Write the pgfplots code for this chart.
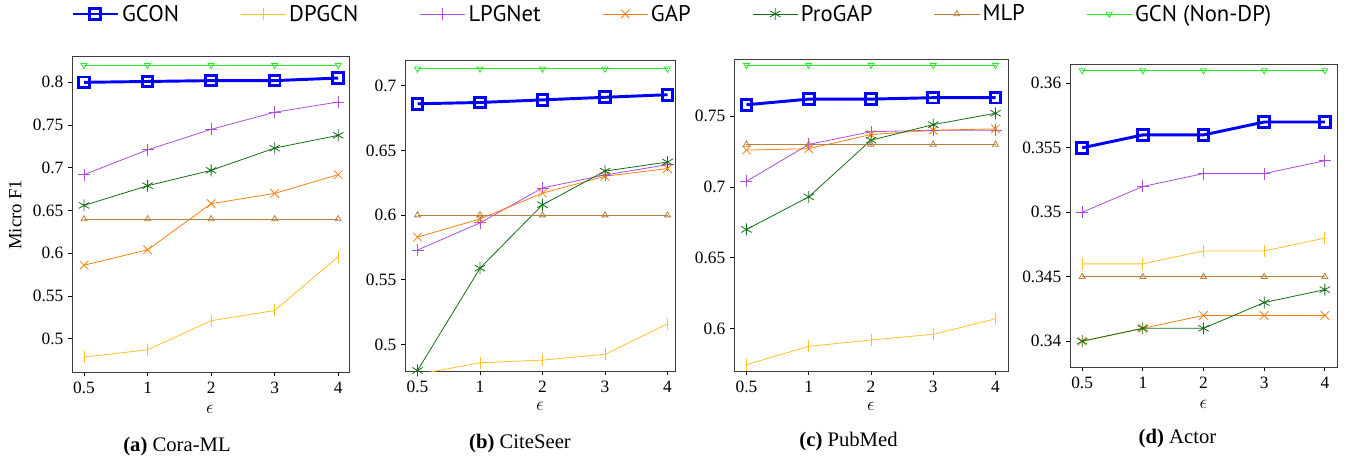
\documentclass[border=0pt]{standalone}
\usepackage{fontspec}
\setmainfont{Liberation Serif}
\newfontfamily\legfont{PT Sans}
\usepackage{pgfplots}
\usepackage{pgfplotstable}
\pgfplotsset{compat=1.18}

\definecolor{cGCON}{RGB}{0,0,255}
\definecolor{cDP}{RGB}{255,193,37}
\definecolor{cLPG}{RGB}{170,80,220}
\definecolor{cGAP}{RGB}{255,127,14}
\definecolor{cPRO}{RGB}{20,110,20}
\definecolor{cMLP}{RGB}{184,128,60}
\definecolor{cGCN}{RGB}{40,230,40}
\definecolor{frame}{RGB}{60,60,60}

% columns: x gcon dpgcn lpg gap pro mlp gcn
\pgfplotstableread{
x gcon dpgcn lpg gap pro mlp gcn
0 0.800 0.4785 0.692 0.586 0.656 0.640 0.820
1 0.801 0.487 0.721 0.604 0.679 0.640 0.820
2 0.802 0.521 0.745 0.658 0.697 0.640 0.820
3 0.802 0.533 0.765 0.670 0.723 0.640 0.820
4 0.805 0.596 0.777 0.692 0.738 0.640 0.820
}\tA
\pgfplotstableread{
x gcon dpgcn lpg gap pro mlp gcn
0 0.686 0.477 0.573 0.583 0.480 0.600 0.713
1 0.687 0.486 0.594 0.597 0.559 0.600 0.713
2 0.689 0.488 0.621 0.617 0.608 0.600 0.713
3 0.691 0.4925 0.631 0.630 0.634 0.600 0.713
4 0.693 0.516 0.639 0.636 0.641 0.600 0.713
}\tB
\pgfplotstableread{
x gcon dpgcn lpg gap pro mlp gcn
0 0.758 0.5746 0.704 0.726 0.670 0.730 0.786
1 0.762 0.5875 0.730 0.727 0.693 0.730 0.786
2 0.762 0.592 0.739 0.737 0.733 0.730 0.786
3 0.763 0.596 0.740 0.740 0.744 0.730 0.786
4 0.763 0.607 0.740 0.741 0.752 0.730 0.786
}\tC
\pgfplotstableread{
x gcon dpgcn lpg gap pro mlp gcn
0 0.355 0.346 0.350 0.340 0.340 0.345 0.361
1 0.356 0.346 0.352 0.341 0.341 0.345 0.361
2 0.356 0.347 0.353 0.342 0.341 0.345 0.361
3 0.357 0.347 0.353 0.342 0.343 0.345 0.361
4 0.357 0.348 0.354 0.342 0.344 0.345 0.361
}\tD

\pgfplotsset{
  sGCON/.style={color=cGCON, line width=2.2pt, mark=square, mark size=4pt, mark options={solid, line width=2.2pt}},
  sDP/.style={color=cDP, line width=0.6pt, mark=|, mark size=4.5pt},
  sLPG/.style={color=cLPG, line width=0.6pt, mark=+, mark size=4.5pt},
  sGAP/.style={color=cGAP, line width=0.6pt, mark=x, mark size=4.5pt},
  sPRO/.style={color=cPRO, line width=0.6pt, mark=asterisk, mark size=4.5pt},
  sMLP/.style={color=cMLP, line width=0.6pt, mark=triangle, mark size=2.6pt},
  sGCN/.style={color=cGCN, line width=0.6pt, mark=triangle, mark size=2.6pt, mark options={rotate=180}},
  myaxis/.style={
    scale only axis,
    axis line style={frame, line width=0.6pt},
    tick align=outside,
    xtick pos=bottom, ytick pos=left,
    major tick length=3pt,
    tick style={black, line width=0.6pt},
    xtick={0,1,2,3,4},
    xticklabels={0.5,1,2,3,4},
    ticklabel style={font=\fontsize{13}{15}\selectfont},
    xticklabel style={yshift=-3pt, inner ysep=1pt},
    /pgf/number format/assume math mode=true,
    /pgf/number format/fixed,
    /pgf/number format/precision=3,
    legend image code/.code={\draw[mark repeat=2,mark phase=2] plot coordinates {(0pt,0pt)(17pt,0pt)(34pt,0pt)};},
  },
}

\begin{document}
\begin{tikzpicture}
\path[use as bounding box] (0,0) rectangle (1011pt,-343.5pt);

% (a) Cora-ML
\begin{axis}[myaxis, at={(54pt,-42pt)}, anchor=north west,
  width=207.75pt, height=237pt,
  xmin=-0.19, xmax=4.17, ymin=0.461, ymax=0.8308,
  ytick={0.5,0.55,0.6,0.65,0.7,0.75,0.8},
  legend columns=7,
  legend style={draw=none, fill=none, font=\legfont\fontsize{17}{19}\selectfont,
    at={(-0.004,1.133)}, anchor=west, inner xsep=0pt, inner ysep=0pt,
    /tikz/every even column/.append style={column sep=44pt}},
]
\addplot[sGCON] table[x=x,y=gcon]{\tA}; \addlegendentry{GCON}
\addplot[sDP] table[x=x,y=dpgcn]{\tA}; \addlegendentry{DPGCN}
\addplot[sLPG] table[x=x,y=lpg]{\tA}; \addlegendentry{LPGNet}
\addplot[sGAP] table[x=x,y=gap]{\tA}; \addlegendentry{GAP}
\addplot[sPRO] table[x=x,y=pro]{\tA}; \addlegendentry{ProGAP}
\addplot[sMLP] table[x=x,y=mlp]{\tA}; \addlegendentry{MLP}
\addplot[sGCN] table[x=x,y=gcn]{\tA}; \addlegendentry{GCN (Non-DP)}
\end{axis}

% (b) CiteSeer
\begin{axis}[myaxis, at={(303.75pt,-45pt)}, anchor=north west,
  width=202.5pt, height=233.25pt,
  xmin=-0.2, xmax=4.12, ymin=0.4796, ymax=0.7198,
  ytick={0.5,0.55,0.6,0.65,0.7},
]
\addplot[sGCON] table[x=x,y=gcon]{\tB};
\addplot[sDP] table[x=x,y=dpgcn]{\tB};
\addplot[sLPG] table[x=x,y=lpg]{\tB};
\addplot[sGAP] table[x=x,y=gap]{\tB};
\addplot[sPRO] table[x=x,y=pro]{\tB};
\addplot[sMLP] table[x=x,y=mlp]{\tB};
\addplot[sGCN] table[x=x,y=gcn]{\tB};
\end{axis}

% (c) PubMed
\begin{axis}[myaxis, at={(550.5pt,-44.25pt)}, anchor=north west,
  width=205.5pt, height=234pt,
  xmin=-0.2, xmax=4.2, ymin=0.5701, ymax=0.7903,
  ytick={0.6,0.65,0.7,0.75},
]
\addplot[sGCON] table[x=x,y=gcon]{\tC};
\addplot[sDP] table[x=x,y=dpgcn]{\tC};
\addplot[sLPG] table[x=x,y=lpg]{\tC};
\addplot[sGAP] table[x=x,y=gap]{\tC};
\addplot[sPRO] table[x=x,y=pro]{\tC};
\addplot[sMLP] table[x=x,y=mlp]{\tC};
\addplot[sGCN] table[x=x,y=gcn]{\tC};
\end{axis}

% (d) Actor
\begin{axis}[myaxis, at={(802.5pt,-48pt)}, anchor=north west,
  width=200.25pt, height=227.25pt,
  xmin=-0.2, xmax=4.2, ymin=0.338, ymax=0.3615,
  ytick={0.34,0.345,0.35,0.355,0.36},
]
\addplot[sGCON] table[x=x,y=gcon]{\tD};
\addplot[sDP] table[x=x,y=dpgcn]{\tD};
\addplot[sLPG] table[x=x,y=lpg]{\tD};
\addplot[sGAP] table[x=x,y=gap]{\tD};
\addplot[sPRO] table[x=x,y=pro]{\tD};
\addplot[sMLP] table[x=x,y=mlp]{\tD};
\addplot[sGCN] table[x=x,y=gcn]{\tD};
\end{axis}

% axis labels
\node[rotate=90, font=\fontsize{14}{16}\selectfont] at (11.5pt,-161pt) {Micro F1};
\begin{scope}[every node/.style={font=\fontsize{14}{16}\selectfont, inner sep=0pt}]
\node at (157.5pt,-307pt) {$\epsilon$};
\node at (405pt,-305pt) {$\epsilon$};
\node at (653.25pt,-305pt) {$\epsilon$};
\node at (902.6pt,-303pt) {$\epsilon$};
\end{scope}

% sub-captions
\node[font=\fontsize{15.5}{17}\selectfont] at (132.75pt,-335pt) {\textbf{(a)} Cora-ML};
\node[font=\fontsize{15.5}{17}\selectfont] at (390pt,-333pt) {\textbf{(b)} CiteSeer};
\node[font=\fontsize{15.5}{17}\selectfont] at (636.4pt,-331.5pt) {\textbf{(c)} PubMed};
\node[font=\fontsize{15.5}{17}\selectfont] at (883.1pt,-329.25pt) {\textbf{(d)} Actor};
\end{tikzpicture}
\end{document}
